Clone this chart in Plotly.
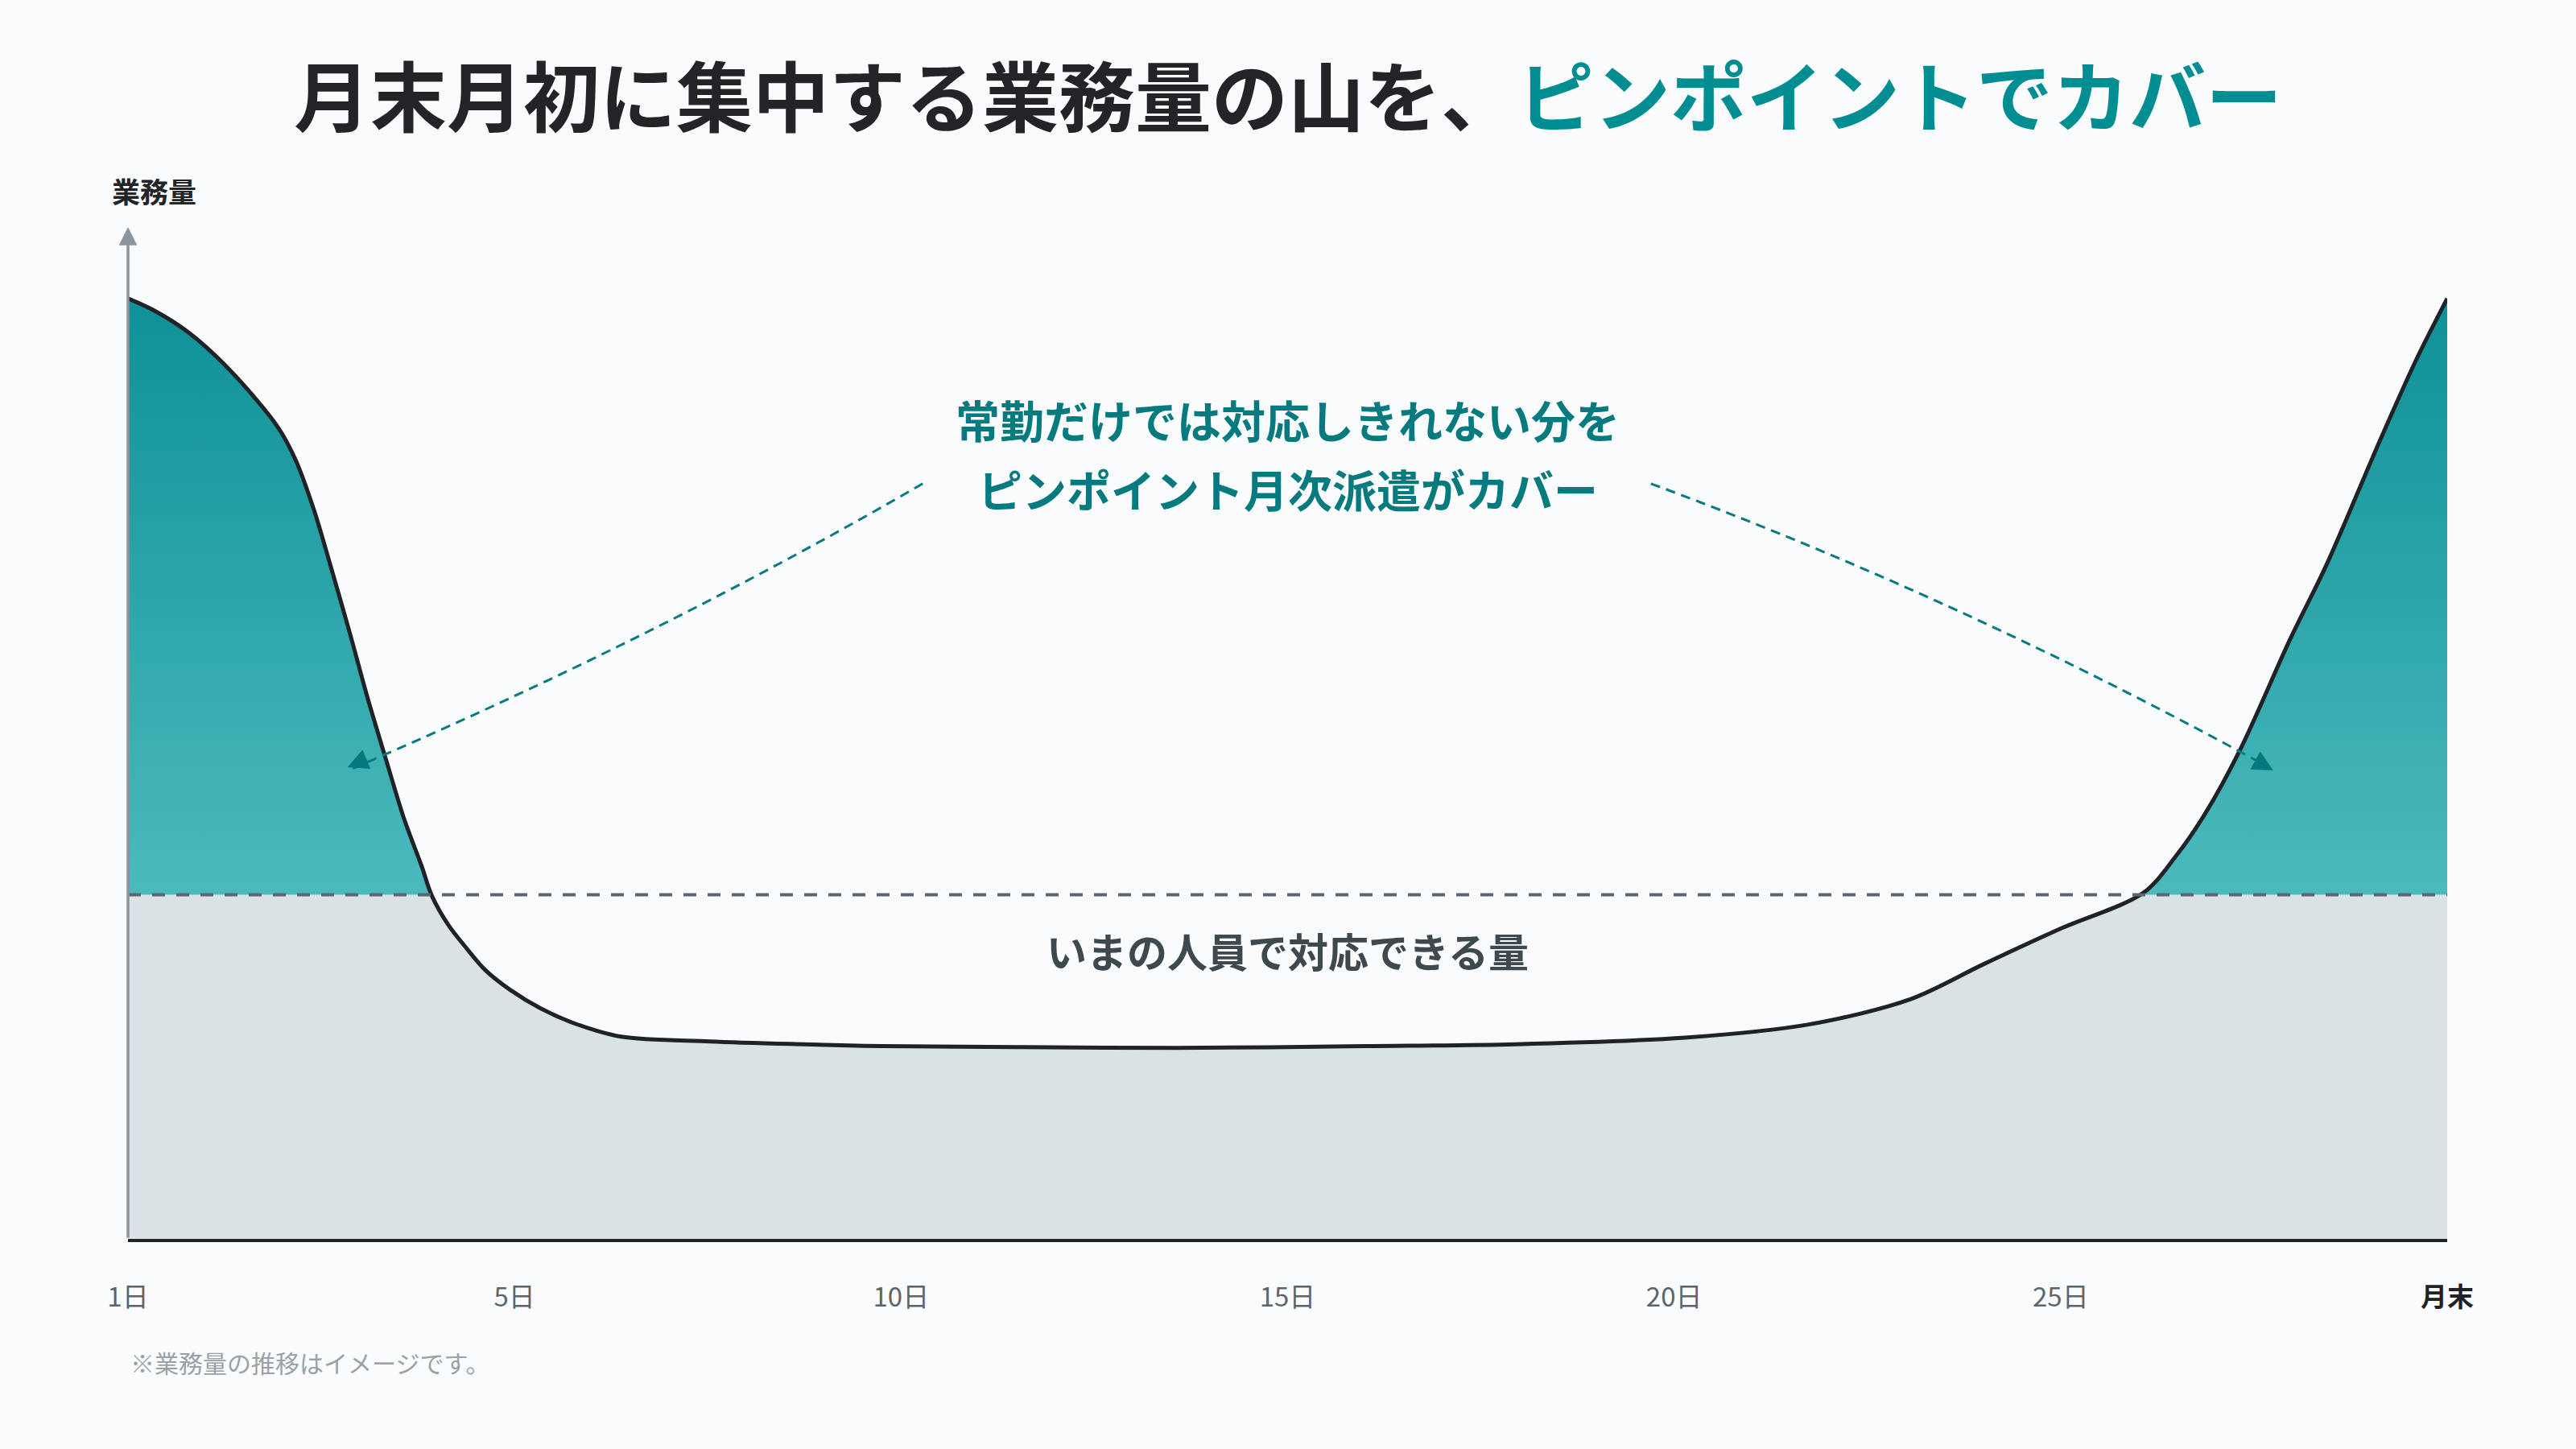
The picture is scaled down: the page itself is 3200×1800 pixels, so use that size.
import plotly.graph_objects as go

# positions along the month (0 = 1日, 30 = 月末) and workload
x_pos = [0, 0.32, 0.78, 1.34, 1.94, 2.17, 2.41, 2.64, 2.87, 3.10, 3.34, 3.57, 3.80, 3.93,
         4.15, 4.35, 4.62, 4.94, 5.34, 5.78, 6.38, 7.53, 8.73, 9.76, 11.5, 13.56, 16.0,
         17.95, 20.14, 21.74, 23.06, 24.0, 25.0,
         26.07, 26.49, 26.86, 27.32, 27.97, 28.44, 29.13, 29.60, 30.0]
workload = [100, 98.8, 96.4, 92.2, 86.3, 82.8, 77.4, 71.0, 64.4, 57.5, 50.9, 44.7, 39.6, 36.5,
            33.3, 31.2, 28.6, 26.5, 24.5, 22.9, 21.5, 21.0, 20.7, 20.5, 20.4, 20.3, 20.5,
            20.7, 21.4, 22.8, 25.5, 29.2, 33.0,
            36.8, 40.7, 45.1, 52.0, 63.8, 71.7, 84.9, 93.5, 100]
capacity = 36.6  # いまの人員で対応できる量

tick_vals = [0, 5, 10, 15, 20, 25, 30]
tick_labels = ["1日", "5日", "10日", "15日", "20日", "25日", "月末"]

FONT = "Noto Sans CJK JP"
BG = "#f9fbfd"
GREY = "#d9e3e5"
TEAL_TOP = "#0e9197"
TEAL_LOW = "#4bbabd"
INK = "#1f2226"
ANNO = "#067b7f"

y_top = 107.6
x_span = [x_pos[0], x_pos[-1]]
curve_line = dict(shape="spline", smoothing=0.9)

fig = go.Figure()

# grey: everything below the current capacity
fig.add_trace(go.Scatter(x=x_span, y=[capacity, capacity], mode="lines",
                         line=dict(width=0), fill="tozeroy", fillcolor=GREY,
                         hoverinfo="skip", showlegend=False))
# teal gradient band above capacity
fig.add_trace(go.Scatter(x=x_span, y=[y_top, y_top], mode="lines",
                         line=dict(width=0), fill="tonexty",
                         fillgradient=dict(type="vertical", start=capacity, stop=max(workload),
                                           colorscale=[[0, TEAL_LOW], [1, TEAL_TOP]]),
                         hoverinfo="skip", showlegend=False))
# curve (invisible) + background above it to cut the shapes
fig.add_trace(go.Scatter(x=x_pos, y=workload, mode="lines",
                         line=dict(width=0, **curve_line),
                         hoverinfo="skip", showlegend=False))
fig.add_trace(go.Scatter(x=x_span, y=[y_top, y_top], mode="lines",
                         line=dict(width=0), fill="tonexty", fillcolor=BG,
                         hoverinfo="skip", showlegend=False))
# visible curve
fig.add_trace(go.Scatter(x=x_pos, y=workload, mode="lines",
                         line=dict(width=5, color=INK, **curve_line),
                         hoverinfo="skip", showlegend=False))
# capacity dashed line
fig.add_trace(go.Scatter(x=x_span, y=[capacity, capacity], mode="lines",
                         line=dict(width=4, color="#5b6670", dash="16px,14px"),
                         hoverinfo="skip", showlegend=False))

# dashed pointer lines
for path in ["M 10.28,80.31 Q 6.83,63.87 2.90,50.0",
             "M 19.70,80.31 Q 23.72,68.07 27.68,50.2"]:
    fig.add_shape(type="path", path=path, xref="x", yref="y", layer="above",
                  line=dict(color=ANNO, width=3, dash="12px,8px"))

# arrow heads
for hx, hy, ax, ay in [(2.84, 50.17, 16.6, -6.9), (27.75, 49.83, -15.8, -8.7)]:
    fig.add_annotation(x=hx, y=hy, xref="x", yref="y", ax=ax, ay=ay, text="",
                       showarrow=True, arrowhead=2, arrowsize=1.7, arrowwidth=3,
                       arrowcolor="#04787c", standoff=0)

# y axis with arrow
fig.add_annotation(x=0, y=y_top, xref="x", yref="y", ax=0, ay=0, axref="x", ayref="y",
                   text="", showarrow=True, arrowhead=2, arrowsize=1.3, arrowwidth=3.5,
                   arrowcolor="#8b959d", standoff=0)

# texts
fig.add_annotation(x=15.0, y=87.2, xref="x", yref="y", showarrow=False,
                   text="常勤だけでは対応しきれない分を",
                   font=dict(family=FONT, size=55, color=ANNO, weight=700))
fig.add_annotation(x=15.0, y=79.9, xref="x", yref="y", showarrow=False,
                   text="ピンポイント月次派遣がカバー",
                   font=dict(family=FONT, size=55, color=ANNO, weight=700))
fig.add_annotation(x=15.0, y=30.7, xref="x", yref="y", showarrow=False,
                   text="いまの人員で対応できる量",
                   font=dict(family=FONT, size=50, color="#3e484f", weight=700))

fig.add_annotation(x=0.5, y=1 - 116 / 1800, xref="paper", yref="paper", showarrow=False,
                   xanchor="center", yanchor="middle",
                   text="月末月初に集中する業務量の山を、<span style='color:#008e93'>ピンポイントでカバー</span>",
                   font=dict(family=FONT, size=95, color="#222428", weight=700))
fig.add_annotation(x=137 / 3200, y=1 - 236 / 1800, xref="paper", yref="paper", showarrow=False,
                   xanchor="left", yanchor="middle", text="業務量",
                   font=dict(family=FONT, size=35, color="#222428", weight=700))
fig.add_annotation(x=160 / 3200, y=1 - 1692 / 1800, xref="paper", yref="paper", showarrow=False,
                   xanchor="left", yanchor="middle", text="※業務量の推移はイメージです。",
                   font=dict(family=FONT, size=30, color="#9aa1a7"))

tick_text = tick_labels[:-1] + [f"<span style='color:{INK}'><b>{tick_labels[-1]}</b></span>"]

fig.update_layout(
    width=3200, height=1800,
    margin=dict(l=0, r=0, t=0, b=0, autoexpand=False),
    paper_bgcolor=BG, plot_bgcolor=BG,
    showlegend=False,
    xaxis=dict(domain=[159 / 3200, 3040 / 3200], range=x_span, showgrid=False, zeroline=False,
               showline=True, linecolor=INK, linewidth=4, ticks="", automargin=False,
               tickvals=tick_vals, ticktext=tick_text, ticklabelstandoff=40,
               tickfont=dict(family=FONT, size=33, color="#5d656c")),
    yaxis=dict(domain=[(1800 - 1539) / 1800, (1800 - 282) / 1800], range=[0, y_top],
               showgrid=False, zeroline=False, showline=False, showticklabels=False,
               automargin=False),
    font=dict(family=FONT),
)

fig.write_html("out.html", config={"displayModeBar": False},
               post_script="document.body.style.margin='0';document.body.style.overflow='hidden';")
